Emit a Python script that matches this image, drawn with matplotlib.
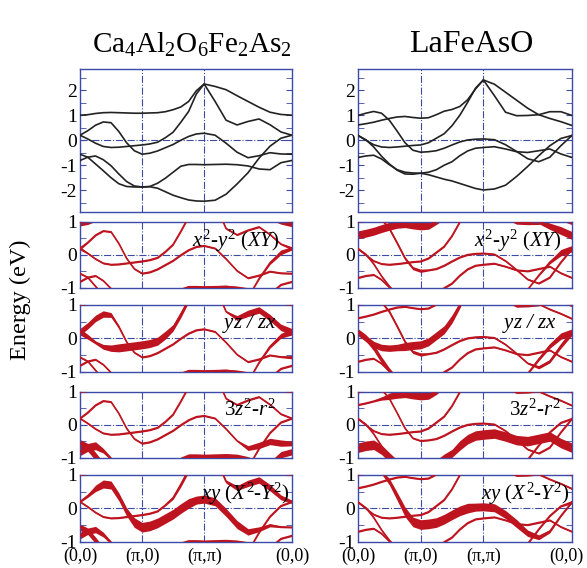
#!/usr/bin/env python3
"""Orbital-resolved band structures of Ca4Al2O6Fe2As2 and LaFeAsO."""

import numpy as np
import matplotlib.pyplot as plt
from matplotlib.transforms import ScaledTranslation

plt.rcParams["font.family"] = ["Liberation Serif", "DejaVu Serif"]
plt.rcParams["mathtext.fontset"] = "custom"
plt.rcParams["mathtext.rm"] = "Liberation Serif"
plt.rcParams["mathtext.it"] = "Liberation Serif:italic"
plt.rcParams["axes.unicode_minus"] = False

# k path (0,0)-(pi,0)-(pi,pi)-(0,0), eight steps per segment
k_seg = np.arange(9) / 8
k_path = np.concatenate([k_seg, 1 + k_seg[1:], 2 + np.sqrt(2) * k_seg[1:]])
k_ticks = [0, 1, 2, 2 + np.sqrt(2)]
k_labels = ["(0,0)", "(\u03c0,0)", "(\u03c0,\u03c0)", "(0,0)"]

# Ca4Al2O6Fe2As2 bands (eV), read along the path
ca_band_a = [1.00, 1.02, 1.07, 1.10, 1.11, 1.10, 1.09, 1.08, 1.08,
             1.09, 1.10, 1.14, 1.22, 1.33, 1.55, 1.98, 2.25,
             2.15, 2.02, 1.78, 1.55, 1.32, 1.12, 1.03, 1.00]
ca_band_b = [0.20, 0.38, 0.60, 0.73, 0.70, 0.35, -0.10, -0.42, -0.56,
             -0.52, -0.43, -0.30, -0.17, 0.00, 0.15, 0.25, 0.28,
             0.20, -0.12, -0.48, -0.70, -0.62, -0.50, -0.55, -0.56]
ca_band_c = [0.20, 0.05, -0.12, -0.25, -0.29, -0.28, -0.25, -0.22, -0.19,
             -0.15, -0.08, 0.10, 0.32, 0.72, 1.15, 1.85, 2.25,
             1.55, 0.80, 0.61, 0.75, 0.85, 0.62, 0.33, 0.20]
ca_band_d = [-0.56, -0.68, -0.95, -1.22, -1.50, -1.74, -1.85, -1.87, -1.87,
             -1.85, -1.72, -1.52, -1.28, -1.04, -0.97, -0.97, -0.98,
             -0.97, -0.96, -0.98, -1.03, -1.15, -1.18, -0.90, -0.81]
ca_band_e = [-0.81, -0.68, -0.63, -0.78, -1.02, -1.35, -1.65, -1.83, -1.87,
             -1.86, -1.92, -2.06, -2.20, -2.30, -2.39, -2.43, -2.44,
             -2.40, -2.16, -1.75, -1.30, -0.72, -0.24, 0.08, 0.20]

# LaFeAsO bands (eV)
la_band_p = [0.99, 1.08, 1.15, 1.08, 0.80, 0.36, -0.10, -0.40, -0.48,
             -0.46, -0.42, -0.32, -0.19, -0.07, 0.01, 0.04, 0.05,
             0.02, -0.18, -0.45, -0.74, -0.86, -0.68, -0.22, 0.19]
la_band_q = [0.61, 0.66, 0.72, 0.80, 0.87, 0.93, 0.95, 0.91, 0.88,
             0.90, 1.02, 1.16, 1.23, 1.35, 1.62, 2.05, 2.41,
             2.24, 1.92, 1.60, 1.28, 1.02, 0.87, 0.74, 0.59]
la_band_r = [0.19, 0.00, -0.18, -0.27, -0.29, -0.27, -0.24, -0.21, -0.19,
             -0.10, 0.08, 0.26, 0.58, 1.00, 1.52, 2.08, 2.41,
             1.78, 1.12, 0.98, 0.99, 1.02, 1.14, 1.14, 0.99]
la_band_s = [0.19, 0.02, -0.27, -0.64, -0.95, -1.20, -1.35, -1.36, -1.32,
             -1.38, -1.47, -1.56, -1.63, -1.73, -1.83, -1.93, -1.99,
             -1.95, -1.80, -1.45, -1.05, -0.62, -0.22, 0.07, 0.19]
la_band_t = [-0.69, -0.63, -0.60, -0.75, -0.98, -1.18, -1.28, -1.31, -1.32,
             -1.28, -1.18, -1.00, -0.86, -0.62, -0.43, -0.32, -0.29,
             -0.26, -0.35, -0.46, -0.49, -0.42, -0.35, -0.55, -0.69]

# orbital weights (0 = thin line, 6 = fattest), one row per band
ca_w_x2y2 = [[5, 4, 2, 0, 0, 0, 0, 0, 0, 0, 0, 0, 0, 0, 0, 0, 0, 0, 0, 0, 0, 0, 2, 4, 6],
             [2, 1, 1, 1, 1, 1, 1, 1, 1, 1, 1, 1, 1, 1, 1, 1, 1, 1, 1, 1, 1, 1, 1, 1, 1],
             [2, 1, 1, 1, 1, 1, 1, 1, 1, 1, 1, 1, 1, 1, 1, 1, 1, 1, 1, 1, 1, 1, 1, 1, 2],
             [1, 1, 1, 1, 1, 1, 1, 1, 1, 1, 1, 1, 1, 1, 2, 2, 2, 2, 2, 1, 1, 1, 1, 1, 1],
             [1, 1, 1, 1, 1, 1, 1, 1, 1, 0, 0, 0, 0, 0, 0, 0, 0, 0, 0, 0, 0, 1, 2, 3, 2]]
ca_w_yz = [[0, 0, 0, 0, 0, 0, 0, 0, 0, 0, 0, 0, 0, 0, 0, 0, 0, 0, 0, 0, 0, 0, 0, 0, 0],
           [4, 4, 4, 4, 3, 2, 1, 1, 1, 1, 1, 1, 1, 1, 1, 1, 1, 1, 1, 1, 1, 1, 1, 1, 2],
           [4, 3, 2, 3, 4, 5, 5, 5, 5, 5, 5, 5, 4, 4, 3, 2, 2, 1, 1, 3, 4, 4, 4, 4, 4],
           [1, 1, 1, 1, 1, 1, 1, 1, 1, 1, 1, 1, 1, 1, 2, 2, 2, 2, 2, 1, 1, 1, 1, 1, 1],
           [1, 1, 1, 1, 1, 1, 1, 1, 1, 0, 0, 0, 0, 0, 0, 0, 0, 0, 0, 0, 0, 1, 2, 3, 4]]
ca_w_z2 = [[0, 0, 0, 0, 0, 0, 0, 0, 0, 0, 0, 0, 0, 0, 0, 0, 0, 0, 0, 0, 0, 0, 0, 0, 0],
           [1, 1, 1, 1, 1, 1, 1, 1, 1, 1, 1, 1, 1, 1, 1, 1, 1, 1, 1, 1, 3, 4, 4, 4, 3],
           [1, 1, 1, 1, 1, 1, 1, 1, 1, 1, 1, 1, 1, 1, 1, 1, 1, 1, 1, 1, 1, 1, 1, 1, 1],
           [5, 5, 5, 4, 3, 2, 2, 2, 2, 2, 2, 2, 2, 3, 4, 4, 4, 4, 4, 4, 3, 2, 3, 4, 4],
           [5, 5, 5, 3, 2, 1, 1, 1, 1, 0, 0, 0, 0, 0, 0, 0, 0, 0, 0, 0, 0, 1, 1, 1, 1]]
ca_w_xy = [[0, 0, 0, 0, 0, 0, 0, 0, 0, 0, 0, 0, 0, 0, 0, 0, 0, 0, 0, 0, 0, 0, 0, 0, 0],
           [1, 2, 4, 5, 5, 5, 5, 6, 6, 6, 6, 6, 6, 6, 6, 5, 5, 5, 5, 5, 4, 3, 2, 1, 1],
           [1, 1, 1, 1, 1, 1, 1, 1, 1, 1, 1, 1, 2, 3, 3, 3, 3, 2, 2, 3, 4, 4, 4, 3, 2],
           [4, 4, 4, 3, 2, 2, 2, 2, 2, 1, 1, 1, 1, 1, 1, 1, 1, 1, 1, 1, 1, 1, 1, 1, 1],
           [4, 4, 4, 3, 2, 1, 1, 1, 1, 0, 0, 0, 0, 0, 0, 0, 0, 0, 0, 0, 0, 1, 1, 1, 1]]

la_w_x2y2 = [[0, 0, 0, 1, 2, 2, 2, 2, 2, 1, 1, 1, 1, 1, 1, 1, 1, 1, 1, 1, 1, 1, 1, 1, 1],
             [5, 5, 5, 5, 5, 5, 5, 5, 5, 5, 4, 3, 2, 1, 1, 1, 1, 1, 1, 1, 2, 3, 4, 5, 5],
             [1, 1, 1, 1, 1, 1, 1, 1, 1, 1, 1, 1, 1, 1, 1, 1, 1, 1, 1, 2, 3, 4, 4, 4, 3],
             [1, 1, 1, 1, 1, 1, 1, 1, 1, 0, 0, 0, 0, 0, 0, 0, 0, 0, 0, 0, 0, 1, 2, 4, 4],
             [1, 1, 1, 1, 1, 1, 1, 1, 1, 1, 1, 1, 1, 1, 1, 1, 1, 1, 1, 1, 1, 1, 1, 1, 1]]
la_w_yz = [[0, 0, 0, 1, 2, 2, 2, 2, 2, 1, 1, 1, 1, 1, 1, 1, 1, 1, 1, 1, 1, 2, 2, 3, 4],
           [1, 1, 1, 1, 1, 1, 1, 1, 1, 1, 1, 1, 1, 1, 1, 1, 1, 0, 0, 0, 0, 0, 1, 1, 1],
           [4, 4, 4, 4, 4, 4, 5, 5, 5, 5, 5, 5, 5, 4, 3, 2, 1, 1, 1, 2, 2, 2, 2, 2, 2],
           [4, 4, 4, 4, 3, 2, 1, 1, 1, 1, 1, 1, 1, 1, 1, 1, 1, 1, 1, 1, 1, 2, 3, 4, 4],
           [1, 1, 1, 1, 1, 1, 1, 1, 1, 1, 1, 1, 1, 1, 1, 1, 1, 1, 1, 1, 1, 1, 1, 1, 1]]
la_w_z2 = [[1, 1, 1, 1, 1, 1, 1, 1, 1, 1, 1, 1, 1, 1, 1, 1, 1, 1, 1, 1, 1, 1, 1, 1, 1],
           [1, 1, 1, 2, 4, 5, 5, 5, 5, 5, 4, 2, 1, 1, 1, 1, 1, 1, 1, 1, 1, 1, 1, 1, 1],
           [1, 1, 1, 1, 1, 1, 1, 1, 1, 1, 1, 1, 1, 1, 1, 1, 1, 1, 1, 1, 1, 1, 1, 1, 1],
           [1, 1, 1, 1, 1, 1, 1, 1, 1, 1, 1, 1, 1, 1, 1, 1, 1, 1, 1, 1, 1, 1, 1, 1, 1],
           [6, 6, 6, 6, 6, 5, 5, 5, 5, 5, 5, 5, 5, 6, 6, 6, 6, 6, 6, 6, 6, 6, 6, 6, 6]]
la_w_xy = [[0, 0, 0, 2, 4, 5, 6, 6, 6, 6, 6, 6, 6, 6, 6, 5, 5, 5, 5, 5, 4, 3, 2, 1, 1],
           [1, 1, 1, 1, 1, 1, 1, 1, 1, 1, 1, 1, 1, 1, 1, 1, 1, 1, 1, 1, 1, 1, 1, 1, 1],
           [1, 1, 1, 1, 1, 1, 1, 1, 1, 1, 1, 1, 1, 1, 1, 1, 1, 1, 1, 1, 1, 1, 1, 1, 1],
           [1, 1, 1, 1, 1, 1, 1, 1, 1, 1, 1, 1, 1, 1, 1, 1, 1, 1, 1, 1, 1, 1, 1, 1, 2],
           [1, 1, 1, 1, 1, 1, 1, 1, 1, 1, 1, 1, 1, 1, 1, 1, 1, 1, 1, 1, 1, 1, 1, 1, 1]]

orbital_labels = [r"$x^2$-$y^2$ $(XY)$", r"$yz$ / $zx$", r"$3z^2$-$r^2$",
                  r"$xy$ $(X^2$-$Y^2)$"]
titles = ["Ca$_4$Al$_2$O$_6$Fe$_2$As$_2$", "LaFeAsO"]
title_sizes = [21, 23]

columns = [
    ([ca_band_a, ca_band_b, ca_band_c, ca_band_d, ca_band_e],
     [ca_w_x2y2, ca_w_yz, ca_w_z2, ca_w_xy]),
    ([la_band_p, la_band_q, la_band_r, la_band_s, la_band_t],
     [la_w_x2y2, la_w_yz, la_w_z2, la_w_xy]),
]

blue = "#3c4ba6"
red = "#be1420"

fig = plt.figure(figsize=(5.87, 5.68), dpi=100)
col_x = [(0.1363, 0.361), (0.6099, 0.3645)]
row_y = [(0.6268, 0.2518), (0.4930, 0.1162), (0.3451, 0.1180),
         (0.1937, 0.1162), (0.0458, 0.1180)]
label_x = [[0.94, 0.93, 0.925, 0.99], [0.95, 0.93, 0.945, 0.99]]


def style_axis(ax, lim, major, minor):
    ax.set_xlim(k_ticks[0], k_ticks[-1])
    ax.set_ylim(*lim)
    for sp in ax.spines.values():
        sp.set_color(blue)
        sp.set_linewidth(1.0)
    ax.axvline(1, color=blue, ls="-.", lw=0.8, zorder=1)
    ax.axvline(2, color=blue, ls="-.", lw=0.8, zorder=1)
    ax.axhline(0, color=blue, ls="-.", lw=0.8, zorder=1)
    ax.set_yticks(major)
    ax.set_yticklabels([f"{v:d}" for v in major], fontsize=14)
    ax.set_yticks(minor, minor=True)
    ax.tick_params(axis="y", which="both", direction="in", left=True,
                   right=True, length=4, color=blue, pad=2)
    ax.set_xticks(k_ticks)
    ax.tick_params(axis="x", length=0, labelbottom=False, pad=4)


for c, (bands, weights) in enumerate(columns):
    x0, w = col_x[c]
    # top panel: plain bands
    ax = fig.add_axes([x0, row_y[0][0], w, row_y[0][1]])
    style_axis(ax, (-2.87, 2.85), [-2, -1, 0, 1, 2],
               [-2.5, -1.5, -0.5, 0.5, 1.5, 2.5])
    for e in bands:
        ax.plot(k_path, e, color="#222222", lw=1.2, zorder=3)
    fig.text(x0 + w / 2 + 0.01, 0.921, titles[c], ha="center", va="center",
             fontsize=title_sizes[c])

    # orbital-resolved panels
    for r in range(4):
        y0, h = row_y[r + 1]
        ax = fig.add_axes([x0, y0, w, h])
        style_axis(ax, (-1, 1), [-1, 0, 1], [-0.5, 0.5])
        for e, wt in zip(bands, weights[r]):
            e = np.array(e)
            half = 0.024 * np.array(wt)
            ax.fill_between(k_path, e - half, e + half, color=red, lw=0,
                            zorder=2)
            ax.plot(k_path, e, color=red, lw=1.2, zorder=3)
        ax.text(label_x[c][r], 0.72, orbital_labels[r], transform=ax.transAxes,
                ha="right", va="center", fontsize=15, style="italic", zorder=5)
        if r == 3:
            ax.set_xticklabels(k_labels, fontsize=13)
            ax.tick_params(axis="x", labelbottom=True)
            if c == 1:
                last = ax.get_xticklabels()[-1]
                last.set_transform(last.get_transform() + ScaledTranslation(
                    -4 / 72, 0, fig.dpi_scale_trans))

fig.text(0.035, 0.472, "Energy (eV)", rotation=90, ha="center", va="center",
         fontsize=17.5)

plt.savefig("out.png", dpi=100)
